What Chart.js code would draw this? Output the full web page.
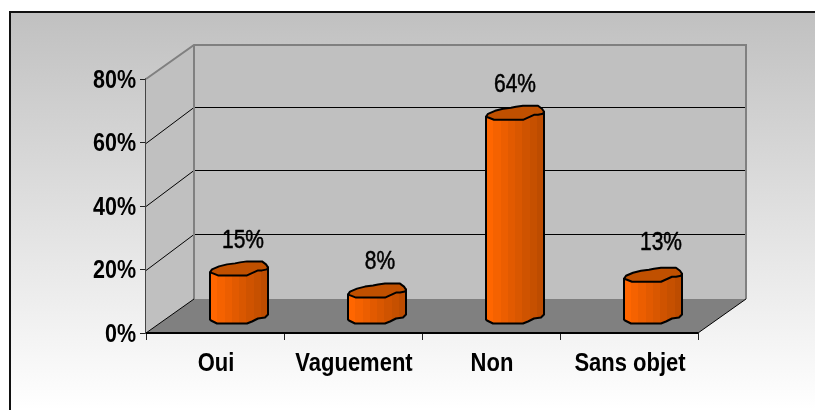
<!DOCTYPE html>
<html>
<head>
<meta charset="utf-8">
<style>
  html, body { margin: 0; padding: 0; background: #fff; overflow: hidden; }
  #box { position: absolute; left: 9px; top: 11px; width: 806px; height: 399px; }
</style>
<script src="https://cdn.jsdelivr.net/npm/chart.js@4"></script>
</head>
<body>
<div id="box"><canvas id="myChart" width="806" height="399"></canvas></div>
<script>
const categories = ['Oui', 'Vaguement', 'Non', 'Sans objet']
const valeurs = [15, 8, 64, 13]
const valueLabels = ['15%', '8%', '64%', '13%']
const yTicks = [0, 20, 40, 60, 80]

// profondeur de la "3D" du graphique
const DX = 48
const DY = 34
const GRID_DY = 36

// decalage de chaque etiquette par rapport au haut de sa barre
const labelOffsets = [[4, -27], [3, -28], [0, -28], [8, -32]]

// contour un peu irregulier du cylindre, autour de son centre
const topShape = [[-29,4],[-27,1],[-20,-2],[-12,-4],[-4,-5],[1,-6],[8,-7],[23,-7],[27,-4],[29,-1],[28,1],[23,2],[19,2],[8,7],[-21,7],[-26,5]]
const baseShape = [[-29,4],[-28,5],[-22,8],[8,8],[13,6],[19,3],[26,2],[29,-1]]

function poly(c, pts) {
  c.beginPath()
  pts.forEach((p, i) => i ? c.lineTo(p[0], p[1]) : c.moveTo(p[0], p[1]))
  c.closePath()
}

// texte ecrase horizontalement : la police de l'original est plus etroite
function squeezed(c, txt, x, y, sx, font, align, epais) {
  c.save()
  c.translate(x, y)
  c.scale(sx, 1)
  c.font = font
  c.fillStyle = '#000'
  c.textAlign = align
  c.textBaseline = 'middle'
  c.fillText(txt, 0, 0)
  if (epais) {
    c.strokeStyle = '#000'
    c.lineWidth = epais
    c.strokeText(txt, 0, 0)
  }
  c.restore()
}

const fond3d = {
  id: 'fond3d',
  beforeDraw(chart) {
    const c = chart.ctx, w = chart.width, h = chart.height
    const g = c.createLinearGradient(0, 0, 0, h)
    g.addColorStop(0, '#c0c0c0')
    g.addColorStop(1, '#ffffff')
    c.fillStyle = g
    c.fillRect(0, 0, w, h)
    c.strokeStyle = '#111'
    c.lineWidth = 2
    c.beginPath()
    c.moveTo(1, h)
    c.lineTo(1, 1)
    c.lineTo(w, 1)
    c.stroke()
  },
  beforeDatasetsDraw(chart) {
    const c = chart.ctx, xs = chart.scales.x, ys = chart.scales.y
    const l = xs.left, r = xs.right, b = ys.getPixelForValue(0), t = ys.getPixelForValue(80)
    // mur du fond, mur gauche, sol
    c.fillStyle = '#c0c0c0'
    poly(c, [[l + DX, t - DY], [r + DX, t - DY], [r + DX, b - DY], [l + DX, b - DY]])
    c.fill()
    poly(c, [[l, t], [l + DX, t - DY], [l + DX, b - DY], [l, b]])
    c.fill()
    c.fillStyle = '#808080'
    poly(c, [[l, b], [l + DX, b - DY], [r + DX, b - DY], [r, b]])
    c.fill()
    // quadrillage
    c.strokeStyle = '#000'
    c.lineWidth = 1
    yTicks.slice(1, -1).forEach(v => {
      const y = Math.round(ys.getPixelForValue(v)) + 0.5
      c.beginPath()
      c.moveTo(l, y)
      c.lineTo(l + DX, y - GRID_DY)
      c.lineTo(r + DX, y - GRID_DY)
      c.stroke()
    })
    // aretes grises
    c.strokeStyle = '#808080'
    c.lineWidth = 2
    c.beginPath()
    c.moveTo(l, t)
    c.lineTo(l + DX, t - DY)
    c.lineTo(r + DX, t - DY)
    c.lineTo(r + DX, b - DY)
    c.moveTo(l + DX, t - DY)
    c.lineTo(l + DX, b - DY)
    c.stroke()
    c.strokeStyle = '#000'
    c.lineWidth = 1
    c.beginPath()
    c.moveTo(l, b)
    c.lineTo(l + DX, b - DY)
    c.moveTo(r, b)
    c.lineTo(r + DX, b - DY)
    c.stroke()
    c.lineWidth = 2
    c.beginPath()
    c.moveTo(l, b)
    c.lineTo(r, b)
    c.stroke()
  },
  afterDatasetsDraw(chart) {
    const c = chart.ctx, xs = chart.scales.x, ys = chart.scales.y
    chart.getDatasetMeta(0).data.forEach((bar, i) => {
      const cx = bar.x + DX / 2, top = bar.y - DY / 2, base = bar.base - DY / 2
      // le corps a des bandes comme les degrades d'Excel
      const g = c.createLinearGradient(cx - 29, 0, cx + 29, 0)
      const cols = ['#ff6600', '#f56200', '#ec5e00', '#e25a00', '#d95700', '#cf5300', '#c65000', '#bd4c00']
      cols.forEach((col, k) => {
        g.addColorStop(k / cols.length, col)
        g.addColorStop((k + 1) / cols.length, col)
      })
      c.lineJoin = 'round'
      c.strokeStyle = '#000'
      c.lineWidth = 2
      const body = [[cx - 29, top + 4]].concat(
        baseShape.map(p => [cx + p[0], base + p[1]]),
        [[cx + 29, top - 1]])
      c.fillStyle = g
      poly(c, body)
      c.fill()
      c.stroke()
      c.fillStyle = '#c05000'
      poly(c, topShape.map(p => [cx + p[0], top + p[1]]))
      c.fill()
      c.stroke()
      // etiquette de valeur
      squeezed(c, valueLabels[i], cx + labelOffsets[i][0], top + labelOffsets[i][1], 0.84, '25px "Liberation Sans"', 'center', 0.5)
    })
    // libelles des axes, aux positions des echelles
    categories.forEach((lab, i) => {
      squeezed(c, lab, xs.getPixelForValue(i) + 1, ys.bottom + 31, 0.88, 'bold 25px "Liberation Sans"', 'center')
    })
    yTicks.forEach(v => {
      squeezed(c, v + '%', xs.left - 10, ys.getPixelForValue(v) + 2, 0.86, 'bold 25px "Liberation Sans"', 'right')
    })
  }
}

const ctx = document.getElementById('myChart')

new Chart(ctx, {
  type: 'bar',
  data: {
    labels: categories,
    datasets: [{
      data: valeurs,
      backgroundColor: 'transparent',
      borderWidth: 0,
      categoryPercentage: 1,
      barPercentage: 0.4275
    }]
  },
  options: {
    responsive: false,
    animation: false,
    layout: { padding: { left: 0, right: 117, top: 68, bottom: 0 } },
    plugins: { legend: { display: false }, tooltip: { enabled: false } },
    scales: {
      x: {
        afterFit(s) { s.height = 77 },
        grid: { drawOnChartArea: false, tickLength: 7, tickColor: '#222', offset: true },
        border: { display: false },
        ticks: { display: false }
      },
      y: {
        min: 0,
        max: 80,
        afterFit(s) { s.width = 137 },
        afterBuildTicks(s) { s.ticks = yTicks.map(v => ({ value: v })) },
        grid: { drawOnChartArea: false, tickLength: 6, tickColor: '#222' },
        border: { color: '#444', width: 2 },
        ticks: { display: false }
      }
    }
  },
  plugins: [fond3d]
})
</script>
</body>
</html>
